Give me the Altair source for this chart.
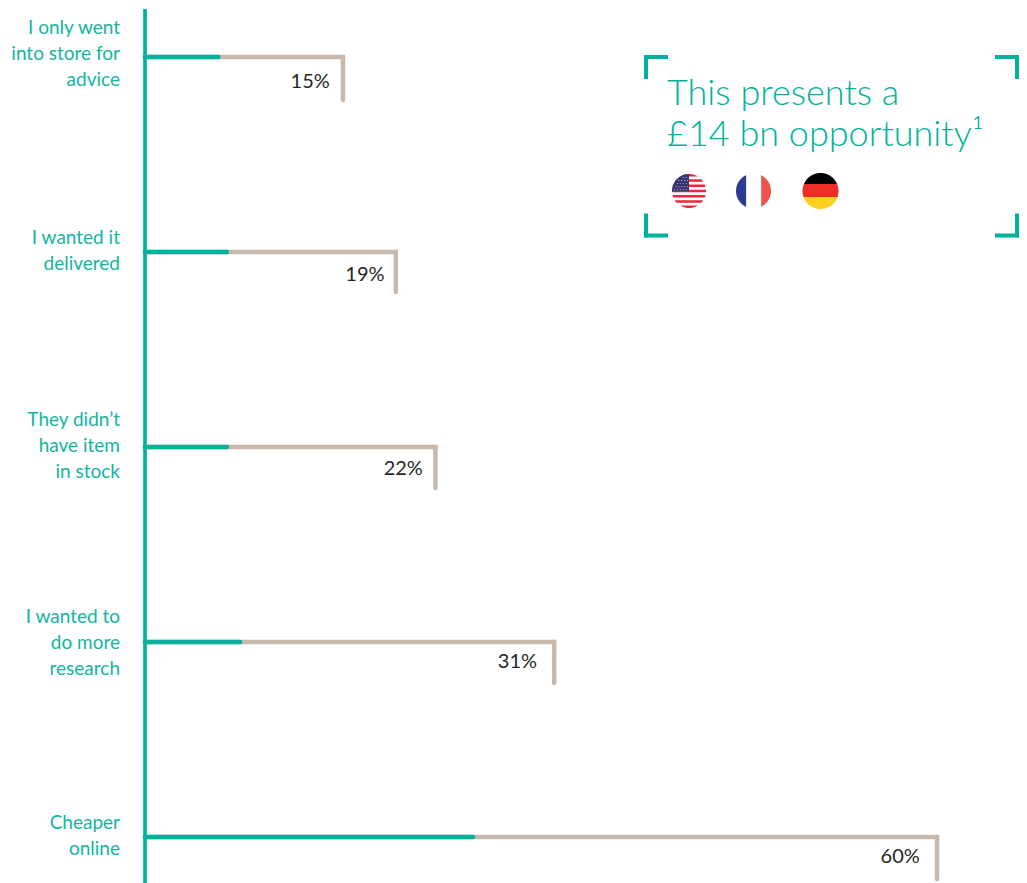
import math
import altair as alt
import pandas as pd

labels = ["I only went\ninto store for\nadvice", "I wanted it\ndelivered",
          "They didn’t\nhave item\nin stock", "I wanted to\ndo more\nresearch", "Cheaper\nonline"]
rows = [0, 1, 2, 3, 4]
values = [15, 19, 22, 31, 60]
teal_part = [5.55, 6.2, 6.2, 7.2, 24.85]
value_text = ["15%", "19%", "22%", "31%", "60%"]
tail = [0.22, 0.205, 0.21, 0.21, 0.215]
label_row_shift = [-0.149, -0.072, -0.138, -0.128, -0.072]
value_row_shift = [0.13, 0.12, 0.115, 0.105, 0.10]
value_gap = [1.0, 0.85, 0.95, 1.3, 1.3]

TEAL = "#00b29b"
TEXT_TEAL = "#12b5a0"
BEIGE = "#c8b9ac"
DARK = "#262626"
FONT = "Lato"
W, H = 1011, 875

df = pd.DataFrame(dict(label=labels, row=rows, value=values, teal=teal_part,
                       text=value_text, tail=tail, zero=[0] * 5))
df["tail_end"] = df["row"] + df["tail"]
df["label_row"] = df["row"] + pd.Series(label_row_shift)
df["value_row"] = df["row"] + pd.Series(value_row_shift)
df["value_x"] = df["value"] - pd.Series(value_gap)

px_per_pct = 13.2
xs = alt.Scale(domain=[-137 / px_per_pct, (W - 137) / px_per_pct], nice=False, zero=False)
ys = alt.Scale(domain=[(H - 49) / 195, -49 / 195], nice=False, zero=False)
X = lambda f: alt.X(f, scale=xs, axis=None)
Y = lambda f: alt.Y(f, scale=ys, axis=None)

base = alt.Chart(df)
layers = [
    base.mark_rule(color=BEIGE, strokeWidth=4.5, strokeCap="square").encode(
        x=X("zero:Q"), x2="value:Q", y=Y("row:Q")),
    base.mark_rule(color=BEIGE, strokeWidth=4.5, strokeCap="round").encode(
        x=X("value:Q"), y=Y("row:Q"), y2="tail_end:Q"),
    base.mark_rule(color=TEAL, strokeWidth=4.5, strokeCap="round").encode(
        x=X("zero:Q"), x2="teal:Q", y=Y("row:Q")),
    base.mark_rule(color=TEAL, strokeWidth=2.6).encode(
        x=X("zero:Q"), y=alt.value(1), y2=alt.value(H)),
    base.mark_text(font=FONT, fontSize=19, color=TEXT_TEAL, align="right", baseline="middle",
                   lineBreak="\n", lineHeight=26, xOffset=-25).encode(
        x=X("zero:Q"), y=Y("label_row:Q"), text="label:N"),
    base.mark_text(font=FONT, fontSize=20, color=DARK, align="right", baseline="middle").encode(
        x=X("value_x:Q"), y=Y("value_row:Q"), text="text:N"),
]

# callout brackets (decoration)
L, R, T, B, ARM = 638, 1009, 49, 227.5, 20
brackets = [
    (L, L + ARM, T, T), (L, L, T, T + ARM), (R - ARM, R, T, T), (R, R, T, T + ARM),
    (L, L + ARM, B, B), (L, L, B - ARM, B), (R - ARM, R, B, B), (R, R, B - ARM, B),
]
one = alt.Chart(pd.DataFrame({"a": [0]}))
for x1, x2, y1, y2 in brackets:
    layers.append(one.mark_rule(color=TEAL, strokeWidth=4, strokeCap="square").encode(
        x=alt.value(x1), x2=alt.value(x2), y=alt.value(y1), y2=alt.value(y2)))

# callout text
for txt, by in [("This presents a", 97), ("£14 bn opportunity¹", 138)]:
    layers.append(one.mark_text(text=txt, font=FONT, fontWeight=300, fontSize=36, color=TEAL,
                                align="left", baseline="alphabetic").encode(
        x=alt.value(659), y=alt.value(by)))


# flags (decoration): polygons inside the unit circle
def poly(points):
    return "M" + "L".join(f"{x:.3f},{y:.3f}" for x, y in points) + "Z"


def arc(a0, a1, n=24):
    return [(math.cos(a0 + (a1 - a0) * i / n), math.sin(a0 + (a1 - a0) * i / n)) for i in range(n + 1)]


def band(y1, y2):
    """Horizontal band of the disc between y1 and y2 (y down)."""
    t1, t2 = math.asin(max(min(y1, 1), -1)), math.asin(max(min(y2, 1), -1))
    return poly(arc(t1, t2) + arc(math.pi - t2, math.pi - t1))


def vband(x1, x2):
    """Vertical band of the disc between x1 and x2."""
    a1, a2 = math.acos(max(min(x1, 1), -1)), math.acos(max(min(x2, 1), -1))
    return poly(arc(-a1, -a2) + arc(a2, a1))


def flag(cx, cy, r, pieces):
    for path, col in pieces:
        layers.append(one.mark_point(shape=path, filled=True, color=col, opacity=1,
                                     size=(2 * r) ** 2, strokeWidth=0).encode(
            x=alt.value(cx), y=alt.value(cy)))


CIRCLE = poly(arc(0, 2 * math.pi, 72))
stripe_h = 2 / 13
red_stripes = [(-1 + i * stripe_h, -1 + (i + 1) * stripe_h) for i in range(0, 13, 2)]
canton = poly([(0, 0.02), (0, -1)] + arc(-math.pi / 2, -math.pi) + [(-1, 0.02)])
stars = ""
for j in range(5):
    for i in range(6):
        sx, sy = -0.88 + i * 0.17 + (0.085 if j % 2 else 0), -0.82 + j * 0.18
        if sx * sx + sy * sy < 0.86 and sx < -0.04:
            stars += f"M{sx:.3f},{sy:.3f}h0.055v0.055h-0.055Z"
flag(681, 183, 17, [(CIRCLE, "#ffffff")] + [(band(a, b), "#e8293c") for a, b in red_stripes]
     + [(canton, "#37356f"), (stars, "#c9c9dd")])
flag(745.5, 183, 17.5, [(CIRCLE, "#ffffff"), (vband(-1, -0.42), "#2e3b94"),
                        (vband(0.42, 0.48), "#8c8c8c"), (vband(0.48, 1), "#f0524a")])
flag(812.5, 183, 18, [(band(-1, -0.39), "#000000"), (band(-0.39, 0.33), "#ee2d27"),
                      (band(0.33, 1), "#ffcf21")])

chart = alt.layer(*layers).properties(
    width=W, height=H, padding=0,
    autosize=alt.AutoSizeParams(type="none"),
    background="#ffffff",
).configure_view(stroke=None)

chart.save("out.html", embed_options={"renderer": "svg", "actions": False})
